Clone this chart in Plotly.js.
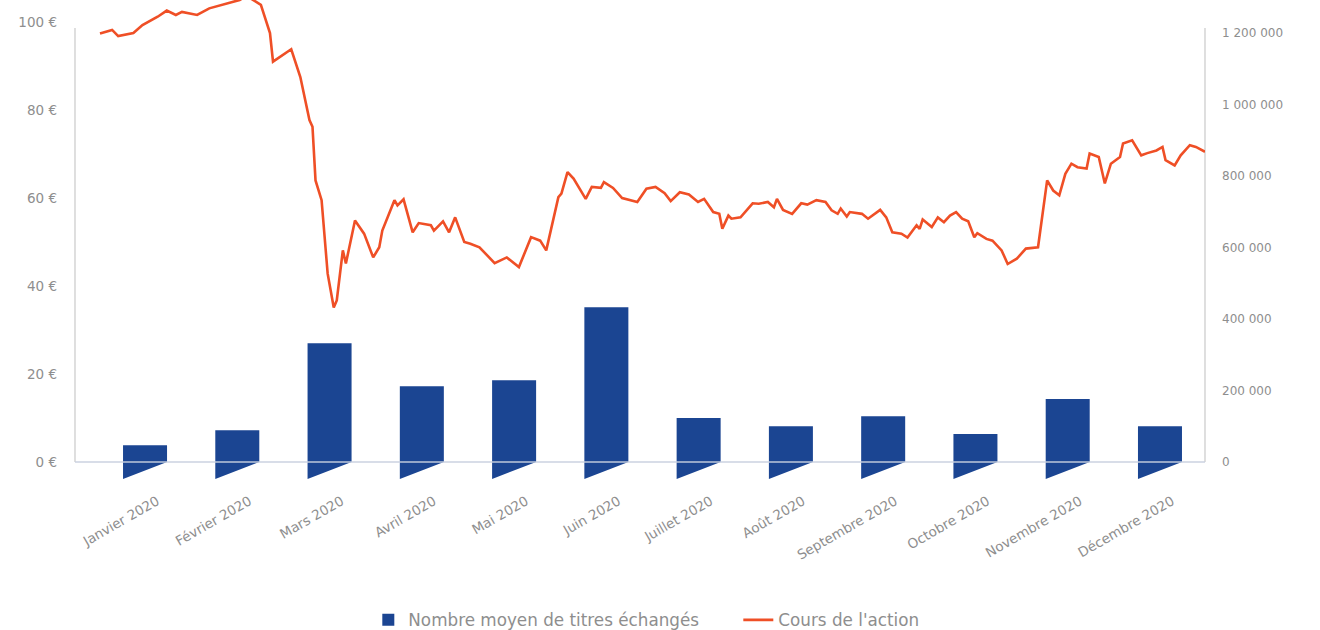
<!DOCTYPE html>
<html>
<head>
<meta charset="utf-8">
<script src="https://cdn.plot.ly/plotly-3.0.1.min.js"></script>
<style>html,body{margin:0;padding:0;background:#fff;}#chart{width:1320px;height:630px;}</style>
</head>
<body>
<div id="chart"></div>
<script>
// ---- Data ----
const months = ["Janvier 2020","Février 2020","Mars 2020","Avril 2020","Mai 2020","Juin 2020",
  "Juillet 2020","Août 2020","Septembre 2020","Octobre 2020","Novembre 2020","Décembre 2020"];
const volumes = [47000, 89000, 332000, 212000, 229000, 433000, 123000, 100000, 128000, 78000, 176000, 100000];

const priceDates = [
 "2020-01-02","2020-01-06","2020-01-08","2020-01-13","2020-01-16","2020-01-21","2020-01-24","2020-01-27","2020-01-29",
 "2020-02-03","2020-02-07","2020-02-13","2020-02-17","2020-02-19","2020-02-21","2020-02-24","2020-02-27","2020-02-28",
 "2020-03-05","2020-03-08","2020-03-11","2020-03-12","2020-03-13","2020-03-15","2020-03-17","2020-03-19","2020-03-20",
 "2020-03-22","2020-03-23","2020-03-26","2020-03-29","2020-04-01","2020-04-03","2020-04-04","2020-04-08","2020-04-09",
 "2020-04-11","2020-04-14","2020-04-16","2020-04-20","2020-04-21","2020-04-24","2020-04-26","2020-04-28","2020-05-01",
 "2020-05-03","2020-05-06","2020-05-11","2020-05-15","2020-05-19","2020-05-23","2020-05-26","2020-05-28","2020-06-01",
 "2020-06-02","2020-06-04","2020-06-06","2020-06-10","2020-06-12","2020-06-15","2020-06-16","2020-06-19","2020-06-22",
 "2020-06-27","2020-06-30","2020-07-03","2020-07-06","2020-07-08","2020-07-11","2020-07-14","2020-07-17","2020-07-19",
 "2020-07-22","2020-07-24","2020-07-25","2020-07-27","2020-07-28","2020-07-31","2020-08-04","2020-08-06","2020-08-09",
 "2020-08-11","2020-08-12","2020-08-14","2020-08-17","2020-08-20","2020-08-22","2020-08-25","2020-08-28","2020-08-30",
 "2020-09-01","2020-09-02","2020-09-04","2020-09-05","2020-09-09","2020-09-11","2020-09-15","2020-09-17","2020-09-19",
 "2020-09-22","2020-09-24","2020-09-27","2020-09-28","2020-09-29","2020-10-02","2020-10-04","2020-10-06","2020-10-08",
 "2020-10-10","2020-10-12","2020-10-14","2020-10-16","2020-10-17","2020-10-20","2020-10-22","2020-10-25","2020-10-27",
 "2020-10-30","2020-11-02","2020-11-06","2020-11-09","2020-11-11","2020-11-13","2020-11-15","2020-11-17","2020-11-19",
 "2020-11-22","2020-11-23","2020-11-26","2020-11-28","2020-11-30","2020-12-03","2020-12-04","2020-12-07","2020-12-10",
 "2020-12-12","2020-12-15","2020-12-17","2020-12-18","2020-12-21","2020-12-23","2020-12-26","2020-12-28","2020-12-31"];
const priceValues = [
 97.4,98.2,96.8,97.5,99.3,101.2,102.6,101.6,102.3,
 101.6,103.1,104.3,105.0,105.8,105.2,103.9,97.5,91.0,
 93.8,87.5,77.7,76.2,64.0,59.5,42.8,35.1,36.7,
 48.1,45.1,54.9,51.9,46.5,48.8,52.6,59.5,58.3,
 59.7,52.2,54.3,53.8,52.6,54.7,52.2,55.6,50.0,
 49.6,48.8,45.2,46.5,44.3,51.1,50.3,48.1,60.2,
 61.0,65.9,64.4,59.8,62.5,62.3,63.6,62.3,60.0,
 59.1,62.1,62.5,61.1,59.3,61.3,60.8,59.1,59.8,
 56.8,56.4,53.0,56.0,55.3,55.6,58.8,58.7,59.1,
 57.9,59.8,57.3,56.4,58.8,58.5,59.5,59.1,57.2,
 56.4,57.6,55.8,56.8,56.4,55.3,57.3,55.6,52.2,
 51.9,51.0,53.8,53.0,55.1,53.4,55.6,54.5,56.0,
 56.8,55.3,54.7,51.1,52.0,50.7,50.3,48.1,45.0,
 46.2,48.5,48.8,64.0,61.7,60.6,65.5,67.8,67.0,
 66.7,70.1,69.3,63.3,67.8,69.3,72.4,73.1,69.7,
 70.2,70.8,71.6,68.6,67.4,69.7,72.0,71.6,70.5];

const leftTicks = [0, 20, 40, 60, 80, 100];
const rightTicks = [0, 200000, 400000, 600000, 800000, 1000000, 1200000];

// ---- Styles / geometry ----
const BLUE = "#1b4592", ORANGE = "#ef4f26", GREY = "#8e8e8e", AXIS = "#c9c9c9";
const FONT = "DejaVu Sans";
const PX_PER_EUR = 4.40;
const PX_PER_UNIT2 = 429 / 1200000;
const ZERO_PX = 462, BOTTOM_PX = 482;
const BAR_W = 0.477, BASE_DEPTH_PX = 17;

const fmt = v => String(v).replace(/\B(?=(\d{3})+(?!\d))/g, " ");
const idx = months.map((_, i) => i);

// slanted base under each bar (decoration), built from the categories
const baseX = [], baseY = [];
idx.forEach(i => {
  baseX.push(i - BAR_W/2, i + BAR_W/2, i - BAR_W/2, i - BAR_W/2, null);
  baseY.push(0, 0, -BASE_DEPTH_PX / PX_PER_UNIT2, 0, null);
});

const traces = [
  {type: "bar", x: idx, y: volumes, xaxis: "x", yaxis: "y", width: BAR_W,
   marker: {color: BLUE, line: {width: 0}}, name: "Nombre moyen de titres échangés", hoverinfo: "skip"},
  {type: "scatter", mode: "lines", x: baseX, y: baseY, xaxis: "x", yaxis: "y", fill: "toself",
   fillcolor: BLUE, line: {width: 0, color: BLUE}, showlegend: false, hoverinfo: "skip"},
  {type: "scatter", mode: "lines", x: priceDates, y: priceValues, xaxis: "x2", yaxis: "y2",
   line: {color: ORANGE, width: 2.6}, name: "Cours de l'action"}
];

const layout = {
  width: 1320, height: 630,
  margin: {l: 75, r: 115, t: 0, b: 630 - BOTTOM_PX, autoexpand: false},
  paper_bgcolor: "#fff", plot_bgcolor: "#fff",
  font: {family: FONT, color: GREY, size: 12},
  showlegend: true,
  legend: {orientation: "h", x: 0.587, xanchor: "center", yref: "container", y: 0.016, yanchor: "middle",
           font: {size: 16.8, color: GREY, family: FONT}, traceorder: "normal", entrywidth: 325},
  // bars: category positions, volume axis on the right
  xaxis: {range: [-0.759, 11.488], tickvals: idx, ticktext: months, tickangle: -30,
          showgrid: false, zeroline: false, showline: false, ticks: "",
          ticklabelshift: 12, ticklabelstandoff: 8,
          tickfont: {size: 13.5, color: GREY}},
  yaxis: {side: "right",
          range: [-(BOTTOM_PX - ZERO_PX) / PX_PER_UNIT2, ZERO_PX / PX_PER_UNIT2],
          tickvals: rightTicks, ticktext: rightTicks.map(fmt),
          showgrid: false, zeroline: false, showline: false, ticks: "", ticklabelstandoff: 16,
          tickfont: {size: 12, color: GREY}},
  // price line: dates, euro axis on the left
  xaxis2: {type: "date", overlaying: "x", range: ["2019-12-24 18:30", "2020-12-31"], visible: false},
  yaxis2: {overlaying: "y", side: "left",
           range: [-(BOTTOM_PX - ZERO_PX) / PX_PER_EUR, ZERO_PX / PX_PER_EUR],
           tickvals: leftTicks, ticktext: leftTicks.map(v => v + " €"),
           showgrid: false, zeroline: false, showline: false, ticks: "", ticklabelstandoff: 17,
           tickfont: {size: 13.5, color: GREY}},
  shapes: [
    {type: "line", xref: "paper", yref: "y2", x0: 0, x1: 1, y0: 0, y1: 0,
     line: {color: "rgba(200,208,222,0.95)", width: 1.5}, layer: "above"},
    {type: "line", xref: "paper", yref: "y2", x0: 0, x1: 0, y0: 0, y1: (ZERO_PX - 28) / PX_PER_EUR,
     line: {color: AXIS, width: 1.2}, layer: "below"},
    {type: "line", xref: "paper", yref: "y2", x0: 1, x1: 1, y0: 0, y1: (ZERO_PX - 28) / PX_PER_EUR,
     line: {color: AXIS, width: 1.2}, layer: "below"}
  ]
};

Plotly.newPlot("chart", traces, layout, {displayModeBar: false, staticPlot: true});
</script>
</body>
</html>
